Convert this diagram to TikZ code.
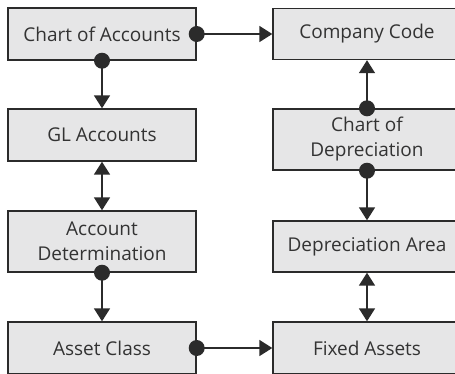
\documentclass[tikz,border=0pt]{standalone}
\usepackage{fontspec}
\setmainfont{Open Sans}
\usetikzlibrary{arrows.meta}
\definecolor{boxfill}{HTML}{E6E6E7}
\definecolor{ink}{HTML}{2B2B2B}
\definecolor{txt}{HTML}{333333}
\tikzset{
  box/.style={draw=ink, fill=boxfill, line width=1.4pt, minimum width=188pt,
    inner sep=0pt, align=center, text=txt, font=\fontsize{19}{25}\selectfont},
  conn/.style={draw=ink, line width=1.6pt, -{Triangle[length=13pt,width=16pt]}},
  dconn/.style={draw=ink, line width=1.6pt, {Triangle[length=13pt,width=16pt]}-{Triangle[length=13pt,width=16pt]}},
  dot/.style={fill=ink}
}
\begin{document}
\begin{tikzpicture}[x=1pt,y=-1pt]
\clip (0,0) rectangle (455,373);
\fill[white] (0,0) rectangle (455,373);
% left column
\node[box, minimum height=52pt] (coa) at (102,34) {Chart of Accounts};
\node[box, minimum height=52pt] (gl) at (102,135) {GL Accounts};
\node[box, minimum height=61pt] (ad) at (102,241.5) {Account\\Determination};
\node[box, minimum height=52pt] (ac) at (102,348) {Asset Class};
% right column
\node[box, minimum height=51pt] (cc) at (367,34) {Company Code};
\node[box, minimum height=61pt] (cd) at (367,139.5) {Chart of\\Depreciation};
\node[box, minimum height=51pt] (da) at (367,246.5) {Depreciation Area};
\node[box, minimum height=52pt] (fa) at (367,348) {Fixed Assets};
% connectors
\draw[conn] (coa.east) -- (cc.west);
\fill[dot] (coa.east) circle (8);
\draw[conn] (coa.south) -- (gl.north);
\fill[dot] (coa.south) circle (8);
\draw[dconn] (gl.south) -- (ad.north);
\draw[conn] (ad.south) -- (ac.north);
\fill[dot] (ad.south) circle (8);
\draw[conn] (ac.east) -- (fa.west);
\fill[dot] (ac.east) circle (8);
\draw[conn] (cd.north) -- (cc.south);
\fill[dot] (cd.north) circle (8);
\draw[conn] (cd.south) -- (da.north);
\fill[dot] (cd.south) circle (8);
\draw[dconn] (da.south) -- (fa.north);
\end{tikzpicture}
\end{document}
